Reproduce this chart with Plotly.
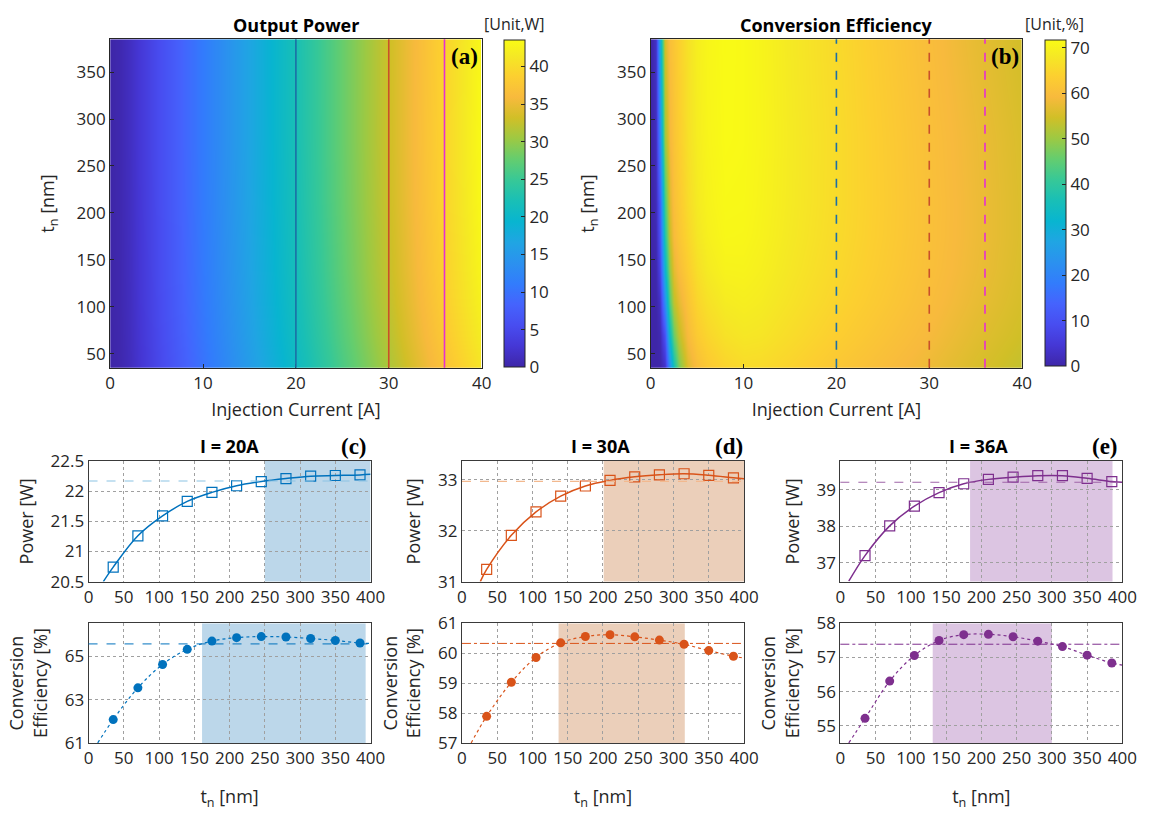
import plotly.graph_objects as go

W, H = 1159, 821
def fx(px): return px / W
def fy(py): return 1 - py / H

# ---------------- heatmap data ----------------
current_p = [0, 1, 2, 5, 10, 15, 20, 25, 30, 36, 40]
tn_p = [35, 70, 105, 140, 210, 280, 385]
power_grid = [
    [0, 0.30, 1.20, 4.60, 10.10, 15.40, 20.74, 26.10, 31.24, 37.20, 41.00],
    [0, 0.35, 1.30, 4.80, 10.50, 15.90, 21.26, 26.70, 31.91, 38.01, 41.90],
    [0, 0.40, 1.35, 4.95, 10.75, 16.20, 21.59, 27.10, 32.37, 38.55, 42.50],
    [0, 0.40, 1.40, 5.00, 10.90, 16.40, 21.83, 27.40, 32.68, 38.92, 42.90],
    [0, 0.45, 1.45, 5.10, 11.05, 16.60, 22.09, 27.70, 32.99, 39.28, 43.30],
    [0, 0.45, 1.50, 5.15, 11.10, 16.70, 22.21, 27.80, 33.10, 39.38, 43.45],
    [0, 0.45, 1.50, 5.15, 11.10, 16.70, 22.27, 27.80, 33.04, 39.22, 43.20],
]

current_e = [0, 0.5, 1, 1.5, 2, 2.5, 3, 4, 5, 6, 8, 10, 12, 15, 20, 25, 30, 35, 40]
tn_e = [35, 70, 105, 140, 175, 210, 280, 385]
eff_grid = [
    [0, 0.0, 0.3, 3, 22, 36, 47, 56.0, 60.0, 62.3, 64.5, 65.8, 65.6, 64.5, 62.05, 60.0, 57.89, 55.6, 53.4],
    [0, 0.0, 1.0, 10, 34, 46, 53, 59.5, 62.8, 64.8, 67.0, 67.9, 67.6, 66.1, 63.56, 61.3, 59.03, 56.6, 54.5],
    [0, 0.2, 3.0, 22, 44, 53, 57, 61.5, 64.8, 66.8, 68.7, 69.2, 68.7, 67.2, 64.64, 62.3, 59.86, 57.4, 55.2],
    [0, 0.5, 7.0, 32, 50, 57, 60, 63.5, 66.5, 68.5, 70.1, 70.2, 69.5, 67.9, 65.33, 62.9, 60.35, 57.9, 55.6],
    [0, 1.0, 10, 38, 54, 59.5, 61.8, 65.0, 67.8, 69.5, 70.9, 70.8, 70.0, 68.3, 65.71, 63.2, 60.56, 58.1, 55.8],
    [0, 1.5, 12, 42, 56, 60.5, 62.5, 66.0, 68.5, 70.0, 71.2, 71.1, 70.2, 68.5, 65.87, 63.3, 60.62, 58.1, 55.8],
    [0, 2.0, 20, 50, 59, 61.5, 63.5, 66.8, 69.0, 70.4, 71.5, 71.3, 70.4, 68.6, 65.90, 63.2, 60.44, 57.9, 55.6],
    [0, 3.0, 28, 55, 60.5, 62.0, 64.0, 67.0, 69.3, 70.6, 71.6, 71.3, 70.3, 68.4, 65.62, 62.8, 59.90, 57.2, 54.9],
]

marked_currents = [20, 30, 36]

# ---------------- line-plot data ----------------
tn = [35, 70, 105, 140, 175, 210, 245, 280, 315, 350, 385]

power_20 = [20.74, 21.26, 21.59, 21.83, 21.98, 22.09, 22.16, 22.21, 22.25, 22.26, 22.27]
eff_20 = [62.08, 63.55, 64.63, 65.33, 65.71, 65.87, 65.92, 65.90, 65.83, 65.74, 65.62]
power_30 = [31.24, 31.91, 32.37, 32.68, 32.88, 32.99, 33.06, 33.10, 33.12, 33.09, 33.04]
eff_30 = [57.89, 59.03, 59.86, 60.35, 60.56, 60.62, 60.55, 60.44, 60.30, 60.09, 59.90]
power_36 = [37.20, 38.01, 38.55, 38.92, 39.16, 39.28, 39.34, 39.38, 39.38, 39.31, 39.22]
eff_36 = [55.22, 56.31, 57.06, 57.50, 57.67, 57.68, 57.61, 57.48, 57.32, 57.07, 56.84]

# fitted-curve end points: (t_start, y_start, y_at_400)
fit_ends_power = [(21, 20.50, 22.28), (26, 31.00, 33.02), (12, 36.50, 39.20)]
fit_ends_eff = [(13, 61.00, 65.60), (13, 57.00, 59.84), (12, 54.50, 56.78)]

ref_power = [22.17, 32.97, 39.20]
ref_eff = [65.58, 60.33, 57.39]
shade_power = [(250, 400), (201, 400), (184, 386)]
shade_eff = [(161, 393), (137, 316), (131, 300)]

titles_I = ["I = 20A", "I = 30A", "I = 36A"]
letters = ["(c)", "(d)", "(e)"]
yr_power = [[20.5, 22.5], [31.0, 33.37], [36.49, 39.78]]
yr_eff = [[61.0, 66.53], [57.0, 61.0], [54.5, 58.0]]
yt_power = [[20.5, 21, 21.5, 22, 22.5], [31, 32, 33], [37, 38, 39]]
yt_eff = [[61, 63, 65], [57, 58, 59, 60, 61], [55, 56, 57, 58]]

# ---------------- styles ----------------
SANS = "Open Sans"
SERIF = "Liberation Serif"
TXT = "#262626"
parula_rows = [
    (0.2422, 0.1504, 0.6603), (0.2706, 0.2147, 0.8364), (0.2813, 0.3006, 0.9414),
    (0.2699, 0.3892, 0.9906), (0.1963, 0.4847, 0.9892), (0.1687, 0.5703, 0.9359),
    (0.1248, 0.6459, 0.8883), (0.0297, 0.7082, 0.8163), (0.0964, 0.7500, 0.7120),
    (0.2161, 0.7843, 0.5923), (0.3909, 0.8029, 0.4354), (0.6174, 0.7876, 0.2612),
    (0.8203, 0.7498, 0.1535), (0.9728, 0.7298, 0.2394), (0.9892, 0.8136, 0.1885),
    (0.9597, 0.9135, 0.1423), (0.9769, 0.9839, 0.0805)]
idx = [1, 5, 9, 13, 17, 21, 25, 29, 33, 37, 41, 45, 49, 53, 57, 61, 64]
parula = [[(k - 1) / 63, "rgb(%d,%d,%d)" % tuple(round(c * 255) for c in rgb)]
          for k, rgb in zip(idx, parula_rows)]

main_colors = ["#0072BD", "#D95319", "#7E2F8E"]
shade_colors = ["#BCD7EA", "#EBCFBA", "#DCC5E2"]
ref_top_colors = ["#8CC3E3", "#F2B98F", "#9E64A8"]
vline_colors = ["#1B6FA6", "#C9502A", "#E52FD0"]

fig = go.Figure()

cb_common = dict(xanchor="left", xpad=0, ypad=0, thickness=21, lenmode="fraction",
                 yanchor="top", ticks="inside", ticklen=4, tickcolor=TXT,
                 outlinecolor=TXT, outlinewidth=1,
                 tickfont=dict(family=SANS, size=17, color=TXT))
fig.add_trace(go.Heatmap(
    x=current_p, y=tn_p, z=power_grid, zsmooth="best", colorscale=parula,
    zmin=0, zmax=43.5, xaxis="x", yaxis="y",
    colorbar=dict(cb_common, x=fx(508), y=fy(29), len=(365 - 29) / H,
                  tickvals=[0, 5, 10, 15, 20, 25, 30, 35, 40])))
fig.add_trace(go.Heatmap(
    x=current_e, y=tn_e, z=eff_grid, zsmooth="best", colorscale=parula,
    zmin=0, zmax=71.7, xaxis="x2", yaxis="y2",
    colorbar=dict(cb_common, x=fx(1058), y=fy(29), len=(364 - 29) / H,
                  tickvals=[0, 10, 20, 30, 40, 50, 60, 70])))

shapes = []
for c, col in zip(marked_currents, vline_colors):
    shapes.append(dict(type="line", xref="x", yref="y domain", x0=c, x1=c, y0=0, y1=1,
                       line=dict(color=col, width=1.6)))
    shapes.append(dict(type="line", xref="x2", yref="y2 domain", x0=c, x1=c, y0=0, y1=1,
                       line=dict(color=col, width=1.6, dash="dash")))

# bottom panels
for i in range(3):
    xa_t, ya_t = 3 + 2 * i, 3 + 2 * i
    xa_b, ya_b = 4 + 2 * i, 4 + 2 * i
    col = main_colors[i]
    pw = [power_20, power_30, power_36][i]
    ef = [eff_20, eff_30, eff_36][i]
    s0, ys0, ye0 = fit_ends_power[i]
    s1, ys1, ye1 = fit_ends_eff[i]
    shapes.append(dict(type="rect", xref="x%d" % xa_t, yref="y%d domain" % ya_t,
                       x0=shade_power[i][0], x1=shade_power[i][1], y0=0, y1=1,
                       fillcolor=shade_colors[i], line=dict(width=0), layer="below"))
    shapes.append(dict(type="rect", xref="x%d" % xa_b, yref="y%d domain" % ya_b,
                       x0=shade_eff[i][0], x1=shade_eff[i][1], y0=0, y1=1,
                       fillcolor=shade_colors[i], line=dict(width=0), layer="below"))
    shapes.append(dict(type="line", xref="x%d domain" % xa_t, yref="y%d" % ya_t,
                       x0=0, x1=1, y0=ref_power[i], y1=ref_power[i],
                       line=dict(color=ref_top_colors[i], width=1.1, dash="dash")))
    shapes.append(dict(type="line", xref="x%d domain" % xa_b, yref="y%d" % ya_b,
                       x0=0, x1=1, y0=ref_eff[i], y1=ref_eff[i],
                       line=dict(color=col, width=1.0, dash="dashdot" if i else "dash")))
    fig.add_trace(go.Scatter(x=[s0] + tn + [400], y=[ys0] + pw + [ye0], mode="lines",
                             line=dict(color=col, width=1.5, shape="spline"),
                             xaxis="x%d" % xa_t, yaxis="y%d" % ya_t, showlegend=False))
    fig.add_trace(go.Scatter(x=tn, y=pw, mode="markers",
                             marker=dict(symbol="square-open", size=10, color=col,
                                         line=dict(width=1.2)),
                             xaxis="x%d" % xa_t, yaxis="y%d" % ya_t, showlegend=False))
    fig.add_trace(go.Scatter(x=[s1] + tn + [400], y=[ys1] + ef + [ye1], mode="lines",
                             line=dict(color=col, width=1.2, shape="spline", dash="dot"),
                             xaxis="x%d" % xa_b, yaxis="y%d" % ya_b, showlegend=False))
    fig.add_trace(go.Scatter(x=tn, y=ef, mode="markers",
                             marker=dict(symbol="circle", size=9, color=col),
                             xaxis="x%d" % xa_b, yaxis="y%d" % ya_b, showlegend=False))

layout = dict(width=W, height=H, margin=dict(l=0, r=0, t=0, b=0),
              paper_bgcolor="white", plot_bgcolor="white", showlegend=False,
              font=dict(family=SANS, color=TXT), shapes=shapes)

hm_axis = dict(showline=True, mirror=True, linecolor=TXT, linewidth=1, ticks="inside",
               ticklen=4, tickcolor=TXT, showgrid=False, zeroline=False,
               tickfont=dict(family=SANS, size=17, color=TXT))
for k, (xl, xr) in enumerate([(107, 485), (657, 1035)]):
    sfx = "" if k == 0 else "2"
    layout["xaxis" + sfx] = dict(hm_axis, domain=[fx(xl), fx(xr)], range=[0, 40],
                                 anchor="y" + sfx, tickvals=[0, 10, 20, 30, 40],
                                 title=dict(text="Injection Current [A]", standoff=10,
                                            font=dict(size=18)))
    layout["yaxis" + sfx] = dict(hm_axis, domain=[fy(366), fy(28)], range=[35, 385],
                                 anchor="x" + sfx,
                                 tickvals=[50, 100, 150, 200, 250, 300, 350],
                                 title=dict(text="t<sub>n</sub> [nm]", standoff=17,
                                            font=dict(size=18)))

ln_axis = dict(showline=True, mirror=True, linecolor="#3a3a3a", linewidth=1, ticks="",
               showgrid=True, gridcolor="#a0a0a0", gridwidth=1, griddash="dot",
               zeroline=False, tickfont=dict(family=SANS, size=17, color=TXT))
x_left = [85, 465, 850]
x_right = [372, 752, 1137]
for i in range(3):
    xa_t, xa_b = 3 + 2 * i, 4 + 2 * i
    layout["xaxis%d" % xa_t] = dict(ln_axis, domain=[fx(x_left[i]), fx(x_right[i])],
                                    range=[0, 400], dtick=50, anchor="y%d" % xa_t)
    layout["yaxis%d" % xa_t] = dict(ln_axis, domain=[fy(586), fy(462)], range=yr_power[i],
                                    tickvals=yt_power[i], anchor="x%d" % xa_t,
                                    title=dict(text="Power [W]", standoff=12,
                                               font=dict(size=18)))
    layout["xaxis%d" % xa_b] = dict(ln_axis, domain=[fx(x_left[i]), fx(x_right[i])],
                                    range=[0, 400], dtick=50, anchor="y%d" % xa_b,
                                    title=dict(text="t<sub>n</sub> [nm]", standoff=22,
                                               font=dict(size=18)))
    layout["yaxis%d" % xa_b] = dict(ln_axis, domain=[fy(752), fy(629)], range=yr_eff[i],
                                    tickvals=yt_eff[i], anchor="x%d" % xa_b,
                                    title=dict(text="Conversion<br>Efficiency [%]",
                                               standoff=12, font=dict(size=18)))

def note(text, px, py, family, size, color="black"):
    return dict(text=text, x=fx(px), y=fy(py), xref="paper", yref="paper",
                xanchor="center", yanchor="middle", showarrow=False,
                font=dict(family=family, size=size, color=color))

ann = [
    note("<b>Output Power</b>", 296, 13, SANS, 18),
    note("<b>Conversion Efficiency</b>", 846, 13, SANS, 18),
    note("[Unit,W]", 518, 12, SANS, 16, TXT),
    note("[Unit,%]", 1068, 12, SANS, 16, TXT),
    note("<b>(a)</b>", 468, 46, SERIF, 23),
    note("<b>(b)</b>", 1018, 46, SERIF, 23),
]
title_x = [228, 606, 991]
letter_x = [355, 737, 1119]
for i in range(3):
    ann.append(note("<b>%s</b>" % titles_I[i], title_x[i], 447, SANS, 18))
    ann.append(note("<b>%s</b>" % letters[i], letter_x[i], 447, SERIF, 23))
layout["annotations"] = ann

fig.update_layout(**layout)
fig.write_html("out.html")
